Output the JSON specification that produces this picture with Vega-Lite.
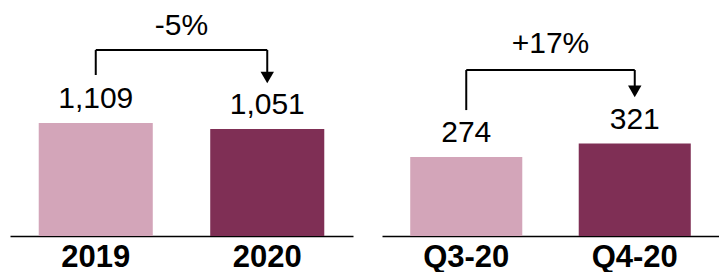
{
  "$schema": "https://vega.github.io/schema/vega-lite/v6.json",
  "padding": {"left": 10, "top": 0, "right": 0, "bottom": 0},
  "spacing": 29,
  "config": {
    "view": {"stroke": null},
    "font": "Liberation Sans",
    "axisX": {
      "title": null, "labelAngle": 0, "labelFont": "Liberation Sans", "labelFontWeight": "bold",
      "labelFontSize": 31, "labelColor": "#000000", "domainColor": "#000000", "domainWidth": 1.5,
      "ticks": false, "tickSize": 0, "labelPadding": 6, "grid": false
    }
  },
  "hconcat": [
    {
      "width": 343, "height": 236,
      "data": {"values": [{"period": "2019", "value": 1109}, {"period": "2020", "value": 1051}]},
      "encoding": {
        "x": {"field": "period", "type": "nominal", "scale": {"paddingInner": 0.335, "paddingOuter": 0.1675}}
      },
      "layer": [
        {
          "mark": {"type": "bar"},
          "encoding": {
            "y": {"field": "value", "type": "quantitative", "scale": {"domain": [0, 2316], "nice": false}, "axis": null},
            "color": {"field": "period", "type": "nominal", "scale": {"range": ["#D3A5B9", "#7F2F55"]}, "legend": null}
          }
        },
        {
          "mark": {"type": "text", "dy": -15, "baseline": "alphabetic", "fontSize": 30, "font": "Liberation Sans", "color": "#000000"},
          "encoding": {
            "y": {"field": "value", "type": "quantitative"},
            "text": {"field": "value", "type": "quantitative", "format": ","}
          }
        },
        {
          "data": {"values": [{"from": "2019", "to": "2020", "change": "-5%"}]},
          "layer": [
            {
              "mark": {"type": "rule", "color": "#000000", "strokeWidth": 2},
              "encoding": {"x": {"field": "from", "type": "nominal", "bandPosition": 0.5}, "y": {"datum": 1580}, "y2": {"datum": 1825}}
            },
            {
              "mark": {"type": "rule", "color": "#000000", "strokeWidth": 2},
              "encoding": {"x": {"field": "from", "type": "nominal", "bandPosition": 0.5}, "x2": {"field": "to", "bandPosition": 0.5}, "y": {"datum": 1825}}
            },
            {
              "mark": {"type": "rule", "color": "#000000", "strokeWidth": 2},
              "encoding": {"x": {"field": "to", "type": "nominal", "bandPosition": 0.5}, "y": {"datum": 1825}, "y2": {"datum": 1570}}
            },
            {
              "mark": {"type": "point", "shape": "triangle-down", "filled": true, "color": "#000000", "size": 180, "opacity": 1},
              "encoding": {"x": {"field": "to", "type": "nominal", "bandPosition": 0.5}, "y": {"datum": 1555}}
            },
            {
              "mark": {"type": "text", "baseline": "alphabetic", "align": "center", "fontSize": 30, "font": "Liberation Sans", "color": "#000000"},
              "encoding": {"x": {"field": "from", "type": "nominal", "bandPosition": 1.2518}, "y": {"datum": 1972}, "text": {"field": "change"}}
            }
          ]
        }
      ]
    },
    {
      "width": 337, "height": 236,
      "data": {"values": [{"period": "Q3-20", "value": 274}, {"period": "Q4-20", "value": 321}]},
      "encoding": {
        "x": {"field": "period", "type": "nominal", "scale": {"paddingInner": 0.335, "paddingOuter": 0.1675}}
      },
      "layer": [
        {
          "mark": {"type": "bar"},
          "encoding": {
            "y": {"field": "value", "type": "quantitative", "scale": {"domain": [0, 819], "nice": false}, "axis": null},
            "color": {"field": "period", "type": "nominal", "scale": {"range": ["#D3A5B9", "#7F2F55"]}, "legend": null}
          }
        },
        {
          "mark": {"type": "text", "dy": -15, "baseline": "alphabetic", "fontSize": 30, "font": "Liberation Sans", "color": "#000000"},
          "encoding": {
            "y": {"field": "value", "type": "quantitative"},
            "text": {"field": "value", "type": "quantitative", "format": ","}
          }
        },
        {
          "data": {"values": [{"from": "Q3-20", "to": "Q4-20", "change": "+17%"}]},
          "layer": [
            {
              "mark": {"type": "rule", "color": "#000000", "strokeWidth": 2},
              "encoding": {"x": {"field": "from", "type": "nominal", "bandPosition": 0.5}, "y": {"datum": 437}, "y2": {"datum": 576}}
            },
            {
              "mark": {"type": "rule", "color": "#000000", "strokeWidth": 2},
              "encoding": {"x": {"field": "from", "type": "nominal", "bandPosition": 0.5}, "x2": {"field": "to", "bandPosition": 0.5}, "y": {"datum": 576}}
            },
            {
              "mark": {"type": "rule", "color": "#000000", "strokeWidth": 2},
              "encoding": {"x": {"field": "to", "type": "nominal", "bandPosition": 0.5}, "y": {"datum": 576}, "y2": {"datum": 510}}
            },
            {
              "mark": {"type": "point", "shape": "triangle-down", "filled": true, "color": "#000000", "size": 180, "opacity": 1},
              "encoding": {"x": {"field": "to", "type": "nominal", "bandPosition": 0.5}, "y": {"datum": 502}}
            },
            {
              "mark": {"type": "text", "baseline": "alphabetic", "align": "center", "fontSize": 30, "font": "Liberation Sans", "color": "#000000"},
              "encoding": {"x": {"field": "from", "type": "nominal", "bandPosition": 1.2518}, "y": {"datum": 635}, "text": {"field": "change"}}
            }
          ]
        }
      ]
    }
  ]
}
